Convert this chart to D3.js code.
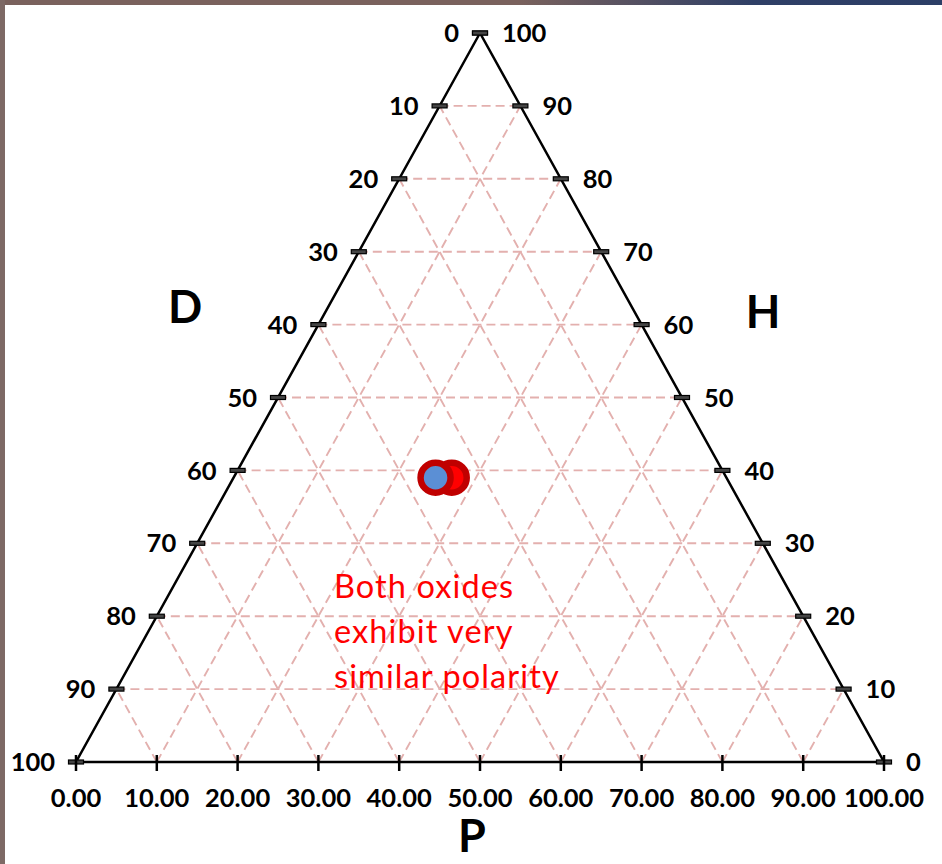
<!DOCTYPE html>
<html>
<head>
<meta charset="utf-8">
<script src="https://cdn.jsdelivr.net/npm/d3@7"></script>
<style>
  html, body { margin: 0; padding: 0; background: #fff; }
  svg { display: block; }
  .tick-label { font-family: Lato, "Open Sans", sans-serif; font-weight: 700; font-size: 25.5px; fill: #000; }
  .axis-title { font-family: Lato, "Open Sans", sans-serif; font-weight: 700; font-size: 45px; fill: #000; }
  .note { font-family: Lato, "Open Sans", sans-serif; font-size: 32.5px; letter-spacing: 1.1px; fill: #ff0000; }
</style>
</head>
<body>
<div id="chart"></div>
<script>
// grid levels (percent)
var levels = [0, 10, 20, 30, 40, 50, 60, 70, 80, 90, 100];
var leftLabels = ['0', '10', '20', '30', '40', '50', '60', '70', '80', '90', '100'];   // D, top to bottom
var rightLabels = ['100', '90', '80', '70', '60', '50', '40', '30', '20', '10', '0'];  // H, top to bottom
var bottomLabels = ['0.00', '10.00', '20.00', '30.00', '40.00', '50.00', '60.00', '70.00', '80.00', '90.00', '100.00'];

// the two oxides (D, P, H in percent)
var pointNames = ['oxide B', 'oxide A'];
var pointD = [34, 36];
var pointP = [27, 25];
var pointH = [39, 39];
var pointFill = ['#ff0000', '#5b8fd5'];
var pointStroke = ['#c00000', '#c00000'];

var noteLines = ['Both oxides', 'exhibit very', 'similar polarity'];

var width = 942, height = 864;

var svg = d3.select('#chart').append('svg')
  .attr('width', width)
  .attr('height', height);

// frame strips at the left and top edge
var defs = svg.append('defs');
var grad = defs.append('linearGradient').attr('id', 'topgrad');
grad.append('stop').attr('offset', '0%').attr('stop-color', '#7a625d');
grad.append('stop').attr('offset', '55%').attr('stop-color', '#7a625d');
grad.append('stop').attr('offset', '80%').attr('stop-color', '#2f3f66');
grad.append('stop').attr('offset', '100%').attr('stop-color', '#2c3e66');
svg.append('rect').attr('x', 0).attr('y', 0).attr('width', width).attr('height', 5).attr('fill', 'url(#topgrad)');
svg.append('rect').attr('x', 0).attr('y', 0).attr('width', 5).attr('height', height).attr('fill', '#7d6965');

// ternary scales: x runs along the base, y follows H
var xs = d3.scaleLinear().domain([0, 100]).range([76, 884]);
var ys = d3.scaleLinear().domain([0, 100]).range([762, 33]);

function proj(p, h) {
  return [xs(p + h / 2), ys(h)];
}

var g = svg.append('g');

////////////////////// grid //////////////////////
var gridSegs = [];
levels.slice(1, -1).forEach(function(k) {
  // constant H (horizontal)
  gridSegs.push([proj(0, k), proj(100 - k, k)]);
  // constant P (parallel to left edge)
  gridSegs.push([proj(k, 0), proj(k, 100 - k)]);
  // constant D (parallel to right edge)
  gridSegs.push([proj(100 - k, 0), proj(0, 100 - k)]);
});

g.selectAll('line.grid')
  .data(gridSegs)
  .enter().append('line')
  .attr('class', 'grid')
  .attr('x1', function(d) { return d[0][0]; })
  .attr('y1', function(d) { return d[0][1]; })
  .attr('x2', function(d) { return d[1][0]; })
  .attr('y2', function(d) { return d[1][1]; })
  .attr('stroke', '#e3b0ae')
  .attr('stroke-width', 1.9)
  .attr('stroke-dasharray', '9,5');

////////////////////// triangle //////////////////////
var corners = [proj(0, 100), proj(0, 0), proj(100, 0)];
g.append('path')
  .attr('d', d3.line()(corners) + 'Z')
  .attr('fill', 'none')
  .attr('stroke', '#000')
  .attr('stroke-width', 2.5)
  .attr('stroke-linejoin', 'miter');

////////////////////// ticks //////////////////////
// left edge ticks + labels (from top to bottom)
levels.forEach(function(k, i) {
  var p = proj(0, 100 - k);
  g.append('rect')
    .attr('x', p[0] - 7.5).attr('y', p[1] - 2)
    .attr('width', 15).attr('height', 4)
    .attr('fill', '#444').attr('stroke', '#000').attr('stroke-width', 1.2);
  g.append('text')
    .attr('class', 'tick-label')
    .attr('x', p[0] - 21).attr('y', p[1])
    .attr('dy', '0.36em')
    .attr('text-anchor', 'end')
    .text(leftLabels[i]);
});

// right edge ticks + labels
levels.forEach(function(k, i) {
  var p = proj(k, 100 - k);
  g.append('rect')
    .attr('x', p[0] - 7.5).attr('y', p[1] - 2)
    .attr('width', 15).attr('height', 4)
    .attr('fill', '#444').attr('stroke', '#000').attr('stroke-width', 1.2);
  g.append('text')
    .attr('class', 'tick-label')
    .attr('x', p[0] + 22).attr('y', p[1])
    .attr('dy', '0.36em')
    .attr('text-anchor', 'start')
    .text(rightLabels[i]);
});

// bottom ticks + labels
levels.forEach(function(k, i) {
  var x = xs(k);
  g.append('line')
    .attr('x1', x).attr('x2', x)
    .attr('y1', ys(0) - 7).attr('y2', ys(0) + 9)
    .attr('stroke', '#000').attr('stroke-width', 2.5);
  g.append('text')
    .attr('class', 'tick-label')
    .attr('x', x).attr('y', 807)
    .attr('text-anchor', 'middle')
    .text(bottomLabels[i]);
});

////////////////////// axis titles //////////////////////
g.append('text').attr('class', 'axis-title').attr('x', 185).attr('y', 323).attr('text-anchor', 'middle').text('D');
g.append('text').attr('class', 'axis-title').attr('x', 763).attr('y', 328).attr('text-anchor', 'middle').text('H');
g.append('text').attr('class', 'axis-title').attr('x', 472).attr('y', 852).attr('text-anchor', 'middle').text('P');

////////////////////// points //////////////////////
g.selectAll('circle.pt')
  .data(pointNames)
  .enter().append('circle')
  .attr('class', 'pt')
  .attr('cx', function(d, i) { return proj(pointP[i], pointH[i])[0]; })
  .attr('cy', function(d, i) { return proj(pointP[i], pointH[i])[1]; })
  .attr('r', 15)
  .attr('fill', function(d, i) { return pointFill[i]; })
  .attr('stroke', function(d, i) { return pointStroke[i]; })
  .attr('stroke-width', 6.5);

////////////////////// note //////////////////////
g.append('text')
  .attr('class', 'note')
  .selectAll('tspan')
  .data(noteLines)
  .enter().append('tspan')
  .attr('x', 334)
  .attr('y', function(d, i) { return 598 + i * 45; })
  .text(function(d) { return d; });
</script>
</body>
</html>
